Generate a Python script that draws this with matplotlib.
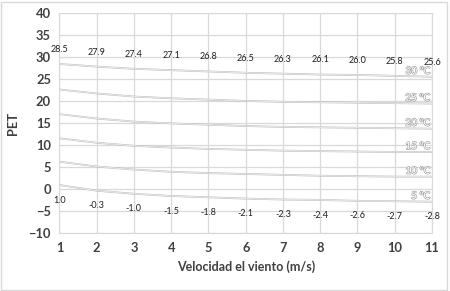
import matplotlib
matplotlib.use('Agg')
import matplotlib.pyplot as plt
import matplotlib.patheffects as pe
from matplotlib.patches import Rectangle

# wind speed (m/s)
wind = [1, 2, 3, 4, 5, 6, 7, 8, 9, 10, 11]

# PET per air temperature
pet_30 = [28.5, 27.9, 27.4, 27.1, 26.8, 26.5, 26.3, 26.1, 26.0, 25.8, 25.6]
pet_25 = [22.7, 21.8, 21.1, 20.7, 20.4, 20.1, 19.9, 19.8, 19.7, 19.6, 19.5]
pet_20 = [17.1, 16.1, 15.4, 15.0, 14.7, 14.4, 14.2, 14.1, 14.0, 13.9, 13.8]
pet_15 = [11.6, 10.6, 9.9, 9.5, 9.2, 9.0, 8.8, 8.7, 8.6, 8.5, 8.5]
pet_10 = [6.3, 5.2, 4.5, 4.0, 3.7, 3.5, 3.3, 3.1, 3.0, 2.9, 2.9]
pet_5 = [1.0, -0.3, -1.0, -1.5, -1.8, -2.1, -2.3, -2.4, -2.6, -2.7, -2.8]

series = [pet_30, pet_25, pet_20, pet_15, pet_10, pet_5]
names = ['30 ºC', '25 ºC', '20 ºC', '15 ºC', '10 ºC', '5 ºC']

font = 'Lato'
dark = '#404040'
grid = '#d9d9d9'

fig = plt.figure(figsize=(4.5, 2.91), dpi=100)
ax = fig.add_axes([0.132, 0.198, 0.828, 0.756])

line_fx = [pe.Stroke(linewidth=1.3, foreground='#c0c0c0'), pe.Normal()]
for vals, name in zip(series, names):
    ax.plot(wind, vals, color='white', lw=0.4, path_effects=line_fx, zorder=3)
    t = ax.text(wind[-1] - 0.05, vals[-1] + 0.2, name, ha='right', va='bottom',
                fontsize=7.2, color='white', family=font, zorder=4)
    t.set_path_effects([pe.Stroke(linewidth=0.9, foreground='#a0a0a0'), pe.Normal()])

# data labels on top and bottom series
for x, v in zip(wind, pet_30):
    ax.text(x, v + 2.3, '%.1f' % v, ha='center', va='bottom', fontsize=6.5,
            color='#202020', family=font)
for x, v in zip(wind, pet_5):
    ax.text(x, v - 2.4, '%.1f' % v, ha='center', va='top', fontsize=6.5,
            color='#202020', family=font)

ax.set_xlim(1, 11)
ax.set_ylim(-10, 40)
ax.set_xticks(wind)
ax.set_yticks(range(-10, 41, 5))
ax.grid(True, color=grid, lw=0.9)
ax.set_axisbelow(True)
for s in ax.spines.values():
    s.set_color(grid)
ax.tick_params(length=0, pad=6, labelsize=9.3, colors=dark)
for lab in ax.get_xticklabels() + ax.get_yticklabels():
    lab.set_fontweight('bold')
    lab.set_family(font)

ax.set_xlabel('Velocidad el viento (m/s)', fontsize=9, fontweight='bold',
              color=dark, family=font, labelpad=5)
ax.set_ylabel('PET', fontsize=9.3, fontweight='bold', color=dark, family=font,
              labelpad=7)

fig.patches.append(Rectangle((0.003, 0.004), 0.99, 0.99, transform=fig.transFigure,
                             fill=False, edgecolor=grid, lw=1))

fig.savefig('out.png', dpi=100)
